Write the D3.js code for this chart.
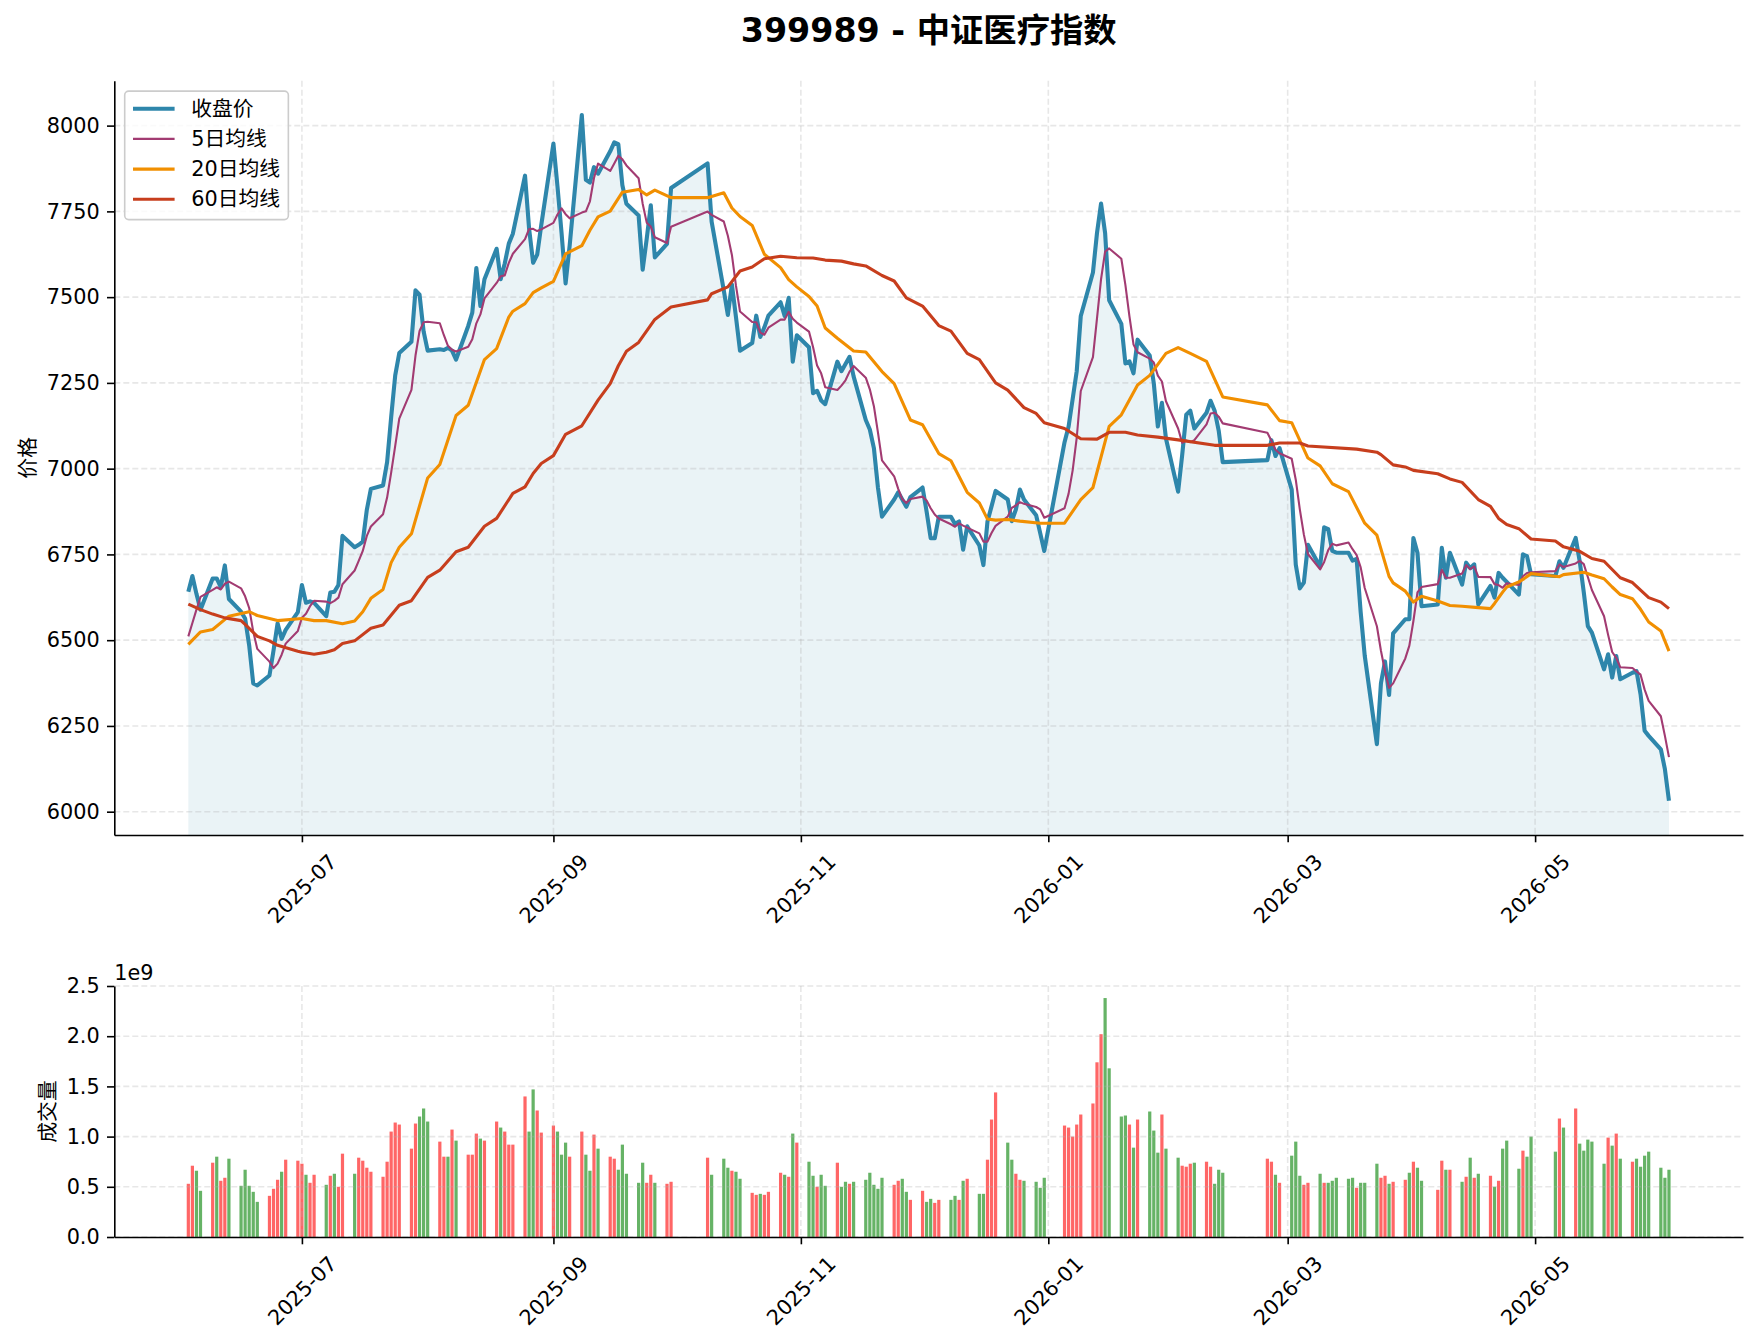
<!DOCTYPE html>
<html>
<head>
<meta charset="utf-8">
<script src="https://cdn.jsdelivr.net/npm/d3@7"></script>
<style>
  body { margin: 0; background: #fff; }
  svg text { font-family: "DejaVu Sans", "Noto Sans CJK SC", sans-serif; }
</style>
</head>
<body>
<div id="chart"></div>
<script>
var chartTitle = "399989 - 中证医疗指数";
var seriesNames = ["收盘价", "5日均线", "20日均线", "60日均线"];
var priceLabel = "价格";
var volumeLabel = "成交量";

// trading calendar: weekdays between these dates, minus exchange holidays
var firstDay = "2025-06-03";
var lastDay = "2026-06-03";
var holidays = ["2025-10-01", "2025-10-02", "2025-10-03", "2025-10-06", "2025-10-07", "2025-10-08",
                "2026-01-01", "2026-01-02", "2026-02-16", "2026-02-17", "2026-02-18", "2026-02-19",
                "2026-02-20", "2026-02-23", "2026-04-06", "2026-05-01", "2026-05-04", "2026-05-05"];

// daily close, one value per trading day
var closes = [
    // 2025-06
    6641, 6687, 6635, 6589, 6680, 6680, 6655, 6718, 6620, 6583, 6563, 6485, 6374, 6368, 6397, 6470, 6549, 6504, 6530, 6582,
    // 2025-07
    6661, 6609, 6613, 6609, 6570, 6639, 6641, 6661, 6804, 6771, 6778, 6787, 6880, 6941, 6951, 7019, 7150, 7272, 7337, 7370, 7520, 7507, 7400,
    // 2025-08
    7344, 7348, 7346, 7352, 7344, 7318, 7416, 7455, 7585, 7474, 7552, 7641, 7552, 7598, 7656, 7685, 7854, 7700, 7600, 7624, 7710,
    // 2025-09
    7948, 7823, 7688, 7540, 7650, 8031, 7842, 7834, 7879, 7860, 7925, 7951, 7946, 7826, 7772, 7738, 7580, 7670, 7768, 7616, 7655, 7818,
    // 2025-10
    7890, 7720, 7520, 7448, 7537, 7442, 7344, 7366, 7446, 7384, 7412, 7446, 7485, 7445, 7498, 7312, 7389,
    // 2025-11
    7354, 7220, 7227, 7199, 7188, 7312, 7284, 7305, 7326, 7269, 7142, 7114, 7060, 6945, 6860, 6910, 6931, 6910, 6889, 6917,
    // 2025-12
    6945, 6875, 6797, 6797, 6860, 6860, 6839, 6846, 6764, 6832, 6776, 6719, 6846, 6890, 6935, 6910, 6847, 6881, 6939, 6910, 6864, 6812, 6760,
    // 2026-01
    7077, 7123, 7203, 7284, 7445, 7572, 7687, 7773, 7687, 7491, 7422, 7307, 7313, 7278, 7376, 7330, 7249, 7123, 7192, 7088,
    // 2026-02
    6933, 7040, 7157, 7169, 7117, 7163, 7198, 7169, 7111, 7019, 7025, 7083, 7037, 7060,
    // 2026-03
    6939, 6720, 6651, 6668, 6778, 6714, 6829, 6824, 6760, 6755, 6755, 6732, 6737, 6582, 6455, 6197, 6375, 6438, 6340, 6520, 6561, 6561,
    // 2026-04
    6798, 6755, 6599, 6604, 6769, 6682, 6755, 6662, 6726, 6710, 6721, 6604, 6658, 6624, 6696, 6682, 6670, 6633, 6750, 6745, 6692,
    // 2026-05
    6687, 6730, 6711, 6798, 6730, 6640, 6541, 6522, 6415, 6459, 6391, 6454, 6386, 6405, 6410, 6342, 6236, 6221,
    // 2026-06
    6182, 6124, 6032
];

// 5-day average on the first four days (its window reaches before the chart)
var ma5Head = [6511, 6550, 6589, 6626];

// daily volume in units of 1e9
var volumes = [
    0.53, 0.71, 0.66, 0.46, 0.74, 0.80, 0.56, 0.59, 0.78, 0.51, 0.67, 0.51, 0.45, 0.35, 0.41, 0.48, 0.57, 0.65, 0.77, 0.76,
    0.73, 0.62, 0.54, 0.62, 0.52, 0.61, 0.63, 0.50, 0.83, 0.63, 0.79, 0.76, 0.69, 0.65, 0.60, 0.75, 1.05, 1.14, 1.12, 0.88, 1.13, 1.20, 1.28,
    1.15, 0.95, 0.80, 0.80, 1.07, 0.96, 0.82, 0.82, 1.03, 0.98, 0.96, 1.15, 1.09, 1.05, 0.92, 0.92, 1.40, 1.05, 1.47, 1.26, 1.04,
    1.11, 1.05, 0.82, 0.94, 0.80, 1.05, 0.82, 0.66, 1.02, 0.88, 0.80, 0.78, 0.67, 0.92, 0.63, 0.54, 0.74, 0.54, 0.62, 0.54, 0.53, 0.55,
    0.79, 0.62, 0.78, 0.69, 0.66, 0.65, 0.58, 0.44, 0.42, 0.43, 0.42, 0.45, 0.64, 0.62, 0.60, 1.03, 0.94,
    0.75, 0.61, 0.50, 0.62, 0.51, 0.74, 0.50, 0.55, 0.53, 0.55, 0.57, 0.64, 0.52, 0.48, 0.59, 0.52, 0.56, 0.58, 0.45, 0.37,
    0.46, 0.35, 0.38, 0.34, 0.37, 0.37, 0.41, 0.37, 0.56, 0.58, 0.43, 0.43, 0.77, 1.17, 1.44, 0.94, 0.77, 0.63, 0.57, 0.56, 0.55, 0.49, 0.59,
    1.11, 1.09, 1.00, 1.12, 1.22, 1.33, 1.74, 2.02, 2.38, 1.68, 1.20, 1.21, 1.12, 0.89, 1.17, 1.25, 1.06, 0.84, 1.22, 0.88,
    0.79, 0.71, 0.70, 0.73, 0.74, 0.75, 0.70, 0.53, 0.67, 0.64, 0.78, 0.75, 0.62, 0.54,
    0.81, 0.95, 0.61, 0.52, 0.54, 0.63, 0.54, 0.54, 0.56, 0.59, 0.58, 0.59, 0.49, 0.54, 0.54, 0.73, 0.59, 0.61, 0.53, 0.55, 0.57, 0.64,
    0.75, 0.69, 0.56, 0.47, 0.76, 0.67, 0.67, 0.55, 0.60, 0.79, 0.59, 0.63, 0.61, 0.50, 0.56, 0.88, 0.96, 0.68, 0.86, 0.80, 1.00,
    0.85, 1.18, 1.09, 1.28, 0.93, 0.86, 0.97, 0.95, 0.73, 0.99, 0.91, 1.03, 0.78, 0.75, 0.78, 0.70, 0.81, 0.85,
    0.69, 0.59, 0.67
];

// 1 = close above open (red bar), 0 = below (green bar)
var upDay = [
    1,1,0,0,1,0,1,1,0,0,0,0,0,0,1,1,1,0,1,1,
    1,0,1,1,0,1,0,1,1,0,1,1,1,1,1,1,1,1,1,1,1,0,0,
    0,1,1,0,1,0,1,1,1,0,1,1,0,1,1,1,1,0,0,1,1,
    1,0,0,0,1,1,0,0,1,0,1,1,0,0,0,0,0,1,1,0,1,1,
    1,0,0,0,1,0,0,1,1,0,1,1,1,0,1,0,1,
    0,0,1,0,0,1,0,0,1,0,0,0,0,0,0,1,1,0,0,1,
    1,0,0,1,1,0,0,1,0,1,0,0,1,1,1,0,0,1,1,0,0,0,0,
    1,1,1,1,1,1,1,1,0,0,0,0,1,0,1,0,0,0,1,0,
    0,1,1,1,0,1,1,0,0,0,1,1,0,1,
    0,0,0,1,1,0,1,0,0,0,0,0,1,0,0,0,1,1,0,1,1,0,
    1,0,0,1,1,0,1,0,1,0,1,0,1,0,1,0,0,0,1,0,0,
    0,1,0,1,0,0,0,0,0,1,0,1,0,1,0,0,0,0,
    0,0,0
];

// 20-day and 60-day averages, read at sampled dates
var ma20Dates = [
    "2025-06-03", "2025-06-06", "2025-06-09", "2025-06-13", "2025-06-18", "2025-06-20", "2025-06-25", "2025-07-01", "2025-07-04", "2025-07-07",
    "2025-07-11", "2025-07-14", "2025-07-16", "2025-07-18", "2025-07-21", "2025-07-23", "2025-07-25", "2025-07-28", "2025-08-01", "2025-08-04",
    "2025-08-08", "2025-08-11", "2025-08-15", "2025-08-18", "2025-08-21", "2025-08-22", "2025-08-25", "2025-08-27", "2025-08-29", "2025-09-01",
    "2025-09-04", "2025-09-08", "2025-09-10", "2025-09-12", "2025-09-15", "2025-09-18", "2025-09-22", "2025-09-24", "2025-09-26", "2025-09-30",
    "2025-10-09", "2025-10-13", "2025-10-15", "2025-10-17", "2025-10-20", "2025-10-23", "2025-10-27", "2025-10-29", "2025-10-31", "2025-11-03",
    "2025-11-05", "2025-11-07", "2025-11-10", "2025-11-14", "2025-11-17", "2025-11-21", "2025-11-24", "2025-11-28", "2025-12-01", "2025-12-05",
    "2025-12-08", "2025-12-12", "2025-12-15", "2025-12-17", "2025-12-19", "2025-12-22", "2025-12-25", "2025-12-30", "2026-01-05", "2026-01-09",
    "2026-01-12", "2026-01-16", "2026-01-19", "2026-01-23", "2026-01-26", "2026-01-30", "2026-02-02", "2026-02-05", "2026-02-09", "2026-02-13",
    "2026-02-24", "2026-02-27", "2026-03-02", "2026-03-06", "2026-03-09", "2026-03-12", "2026-03-16", "2026-03-20", "2026-03-23", "2026-03-26",
    "2026-03-27", "2026-03-30", "2026-04-01", "2026-04-03", "2026-04-07", "2026-04-10", "2026-04-13", "2026-04-17", "2026-04-20", "2026-04-21",
    "2026-04-23", "2026-04-24", "2026-04-27", "2026-04-28", "2026-04-30", "2026-05-07", "2026-05-08", "2026-05-13", "2026-05-15", "2026-05-18",
    "2026-05-20", "2026-05-22", "2026-05-25", "2026-05-27", "2026-05-29", "2026-06-01", "2026-06-03"
];
var ma20Values = [
    6488, 6524, 6531, 6570, 6583, 6572, 6557, 6563, 6557, 6557,
    6548, 6556, 6583, 6622, 6648, 6726, 6771, 6810, 6973, 7012,
    7155, 7185, 7318, 7350, 7442, 7459, 7481, 7513, 7527, 7546,
    7626, 7650, 7695, 7734, 7751, 7806, 7814, 7798, 7812, 7790,
    7790, 7804, 7760, 7735, 7709, 7625, 7586, 7551, 7530, 7502,
    7474, 7410, 7380, 7343, 7340, 7283, 7248, 7142, 7128, 7044,
    7023, 6931, 6900, 6853, 6850, 6852, 6847, 6841, 6841, 6910,
    6945, 7123, 7157, 7244, 7272, 7336, 7353, 7336, 7313, 7209,
    7186, 7140, 7134, 7031, 7008, 6956, 6933, 6841, 6806, 6686,
    6667, 6643, 6611, 6628, 6614, 6601, 6599, 6595, 6592, 6607,
    6640, 6655, 6670, 6677, 6694, 6685, 6691, 6698, 6690, 6679,
    6655, 6633, 6621, 6590, 6553, 6527, 6468
];
var ma60Dates = [
    "2025-06-03", "2025-06-06", "2025-06-09", "2025-06-12", "2025-06-16", "2025-06-17", "2025-06-20", "2025-06-23", "2025-06-25", "2025-06-30",
    "2025-07-01", "2025-07-04", "2025-07-07", "2025-07-09", "2025-07-11", "2025-07-14", "2025-07-18", "2025-07-21", "2025-07-25", "2025-07-28",
    "2025-08-01", "2025-08-04", "2025-08-08", "2025-08-11", "2025-08-15", "2025-08-18", "2025-08-22", "2025-08-25", "2025-08-27", "2025-08-29",
    "2025-09-01", "2025-09-04", "2025-09-08", "2025-09-12", "2025-09-15", "2025-09-17", "2025-09-19", "2025-09-22", "2025-09-26", "2025-09-30",
    "2025-10-09", "2025-10-10", "2025-10-14", "2025-10-17", "2025-10-20", "2025-10-23", "2025-10-27", "2025-10-31", "2025-11-04", "2025-11-07",
    "2025-11-11", "2025-11-14", "2025-11-17", "2025-11-21", "2025-11-24", "2025-11-27", "2025-12-01", "2025-12-05", "2025-12-08", "2025-12-12",
    "2025-12-15", "2025-12-19", "2025-12-22", "2025-12-26", "2025-12-29", "2025-12-31", "2026-01-05", "2026-01-09", "2026-01-13", "2026-01-16",
    "2026-01-20", "2026-01-23", "2026-01-28", "2026-02-02", "2026-02-11", "2026-02-24", "2026-02-27", "2026-03-04", "2026-03-06", "2026-03-18",
    "2026-03-23", "2026-03-24", "2026-03-27", "2026-03-30", "2026-04-01", "2026-04-07", "2026-04-10", "2026-04-13", "2026-04-17", "2026-04-20",
    "2026-04-22", "2026-04-24", "2026-04-27", "2026-04-30", "2026-05-06", "2026-05-08", "2026-05-12", "2026-05-15", "2026-05-18", "2026-05-22",
    "2026-05-25", "2026-05-29", "2026-06-01", "2026-06-03"
];
var ma60Values = [
    6605, 6589, 6576, 6565, 6557, 6546, 6511, 6498, 6485, 6468,
    6465, 6459, 6465, 6472, 6490, 6498, 6535, 6544, 6602, 6615,
    6683, 6704, 6758, 6771, 6832, 6855, 6928, 6947, 6986, 7015,
    7038, 7100, 7125, 7200, 7248, 7300, 7342, 7368, 7435, 7471,
    7492, 7510, 7530, 7576, 7588, 7612, 7619, 7615, 7614, 7608,
    7605, 7597, 7591, 7563, 7547, 7498, 7474, 7417, 7401, 7336,
    7318, 7250, 7229, 7178, 7161, 7134, 7117, 7087, 7086, 7106,
    7106, 7098, 7092, 7084, 7068, 7068, 7075, 7075, 7066, 7057,
    7048, 7041, 7011, 7005, 6995, 6985, 6970, 6960, 6910, 6890,
    6855, 6837, 6825, 6795, 6789, 6772, 6759, 6738, 6730, 6682,
    6668, 6624, 6611, 6592
];

var priceTicks = [6000, 6250, 6500, 6750, 7000, 7250, 7500, 7750, 8000];
var volumeTicks = [0, 0.5, 1.0, 1.5, 2.0, 2.5];
var colors = ["#2E86AB", "#A23B72", "#F18F01", "#C73E1D"];

function init(){

    var w = 1757;
    var h = 1342;
    var left = 114.3, right = 1743;
    var mainTop = 80.7, mainBottom = 835;
    var volTop = 986, volBottom = 1237;
    var fontPx = 20.8;
    var tickLen = 7.3;

    var parse = d3.timeParse("%Y-%m-%d");
    var fmt = d3.timeFormat("%Y-%m-%d");

    var days = d3.timeDay.range(parse(firstDay), d3.timeDay.offset(parse(lastDay), 1))
                .filter(function(d){
                    var wd = d.getDay();
                    return wd !== 0 && wd !== 6 && holidays.indexOf(fmt(d)) < 0;
                });
    if (days.length !== closes.length) console.warn("calendar", days.length, "closes", closes.length);

    var rows = days.map(function(d, i){
        return {
            date: d,
            close: closes[i],
            // rolling 5-day mean of the closes
            ma5: i < ma5Head.length ? ma5Head[i] : d3.mean(closes.slice(i - 4, i + 1)),
            volume: volumes[i],
            up: upDay[i] === 1
        };
    });
    var ma20 = ma20Dates.map(function(s, i){ return {date: parse(s), v: ma20Values[i]}; });
    var ma60 = ma60Dates.map(function(s, i){ return {date: parse(s), v: ma60Values[i]}; });

    // same 5% margins matplotlib adds
    var t0 = days[0], t1 = days[days.length - 1];
    var span = t1 - t0;
    var xScale = d3.scaleTime()
                    .domain([new Date(+t0 - span * 0.05), new Date(+t1 + span * 0.05)])
                    .range([left, right]);

    var ext = d3.extent(closes);
    var pad = (ext[1] - ext[0]) * 0.05;
    var yScale = d3.scaleLinear()
                    .domain([ext[0] - pad, ext[1] + pad])
                    .range([mainBottom, mainTop]);

    var vScale = d3.scaleLinear()
                    .domain([0, 2.5])
                    .range([volBottom, volTop]);

    var svg = d3.select("#chart")
                .append("svg")
                .attr("width", w)
                .attr("height", h)
                .style("display", "block")
                .style("background", "#fff");

    var xTicks = xScale.ticks(d3.timeMonth.every(2));

    // ---------- price panel ----------
    var area = d3.area()
                .x(function(d){ return xScale(d.date); })
                .y0(mainBottom)
                .y1(function(d){ return yScale(d.close); });

    svg.append("path")
        .datum(rows)
        .attr("d", area)
        .attr("fill", colors[0])
        .attr("fill-opacity", 0.1);

    drawGrid(mainTop, mainBottom, yScale, priceTicks);

    var line = d3.line()
                .x(function(d){ return xScale(d.date); })
                .y(function(d){ return yScale(d.v); });

    var closeLine = rows.map(function(d){ return {date: d.date, v: d.close}; });
    var ma5Line = rows.map(function(d){ return {date: d.date, v: d.ma5}; });
    var lineSets = [
        {data: closeLine, color: colors[0], width: 4.1},
        {data: ma5Line, color: colors[1], width: 2.1},
        {data: ma20, color: colors[2], width: 3.1},
        {data: ma60, color: colors[3], width: 3.1}
    ];

    lineSets.forEach(function(s){
        svg.append("path")
            .datum(s.data)
            .attr("d", line)
            .attr("fill", "none")
            .attr("stroke", s.color)
            .attr("stroke-width", s.width)
            .attr("stroke-linejoin", "round");
    });

    var yAxis = d3.axisLeft(yScale)
                    .tickValues(priceTicks)
                    .tickFormat(d3.format("d"))
                    .tickSize(tickLen)
                    .tickPadding(tickLen)
                    .tickSizeOuter(0);
    styleAxis(svg.append("g").attr("transform", "translate(" + left + ",0)").call(yAxis));

    var xAxis = d3.axisBottom(xScale)
                    .tickValues(xTicks)
                    .tickFormat(d3.timeFormat("%Y-%m"))
                    .tickSize(tickLen)
                    .tickPadding(tickLen)
                    .tickSizeOuter(0);
    var gx = svg.append("g").attr("transform", "translate(0," + mainBottom + ")").call(xAxis);
    styleAxis(gx);
    rotateLabels(gx);

    // title
    svg.append("text")
        .attr("x", (left + right) / 2)
        .attr("y", 42)
        .attr("text-anchor", "middle")
        .attr("font-size", "33.3px")
        .attr("font-weight", "bold")
        .text(chartTitle);

    svg.append("text")
        .attr("transform", "translate(28," + ((mainTop + mainBottom) / 2) + ") rotate(-90)")
        .attr("text-anchor", "middle")
        .attr("dominant-baseline", "central")
        .attr("font-size", fontPx + "px")
        .text(priceLabel);

    // legend
    var lg = svg.append("g");
    var lgX = left + 10.4, lgY = mainTop + 10.4;
    var box = lg.append("rect")
                .attr("x", lgX)
                .attr("y", lgY)
                .attr("height", 128.5)
                .attr("rx", 4)
                .attr("fill", "#fff")
                .attr("fill-opacity", 0.8)
                .attr("stroke", "#cccccc")
                .attr("stroke-width", 1.6);
    var maxW = 0;
    seriesNames.forEach(function(name, i){
        var cy = lgY + 17.6 + i * 30.2;
        lg.append("line")
            .attr("x1", lgX + 8.3)
            .attr("x2", lgX + 8.3 + 41.6)
            .attr("y1", cy)
            .attr("y2", cy)
            .attr("stroke", lineSets[i].color)
            .attr("stroke-width", lineSets[i].width);
        var t = lg.append("text")
                .attr("x", lgX + 8.3 + 41.6 + 16.6)
                .attr("y", cy)
                .attr("dominant-baseline", "central")
                .attr("font-size", fontPx + "px")
                .text(name);
        maxW = Math.max(maxW, t.node().getComputedTextLength());
    });
    box.attr("width", 8.3 + 41.6 + 16.6 + maxW + 8.3);

    // ---------- volume panel ----------
    var barW = xScale(d3.timeHour.offset(t0, 0.8 * 24)) - xScale(t0);

    svg.selectAll("rect.vol")
        .data(rows)
        .enter()
        .append("rect")
        .attr("class", "vol")
        .attr("x", function(d){ return xScale(d.date) - barW / 2; })
        .attr("y", function(d){ return vScale(d.volume); })
        .attr("width", barW)
        .attr("height", function(d){ return volBottom - vScale(d.volume); })
        .attr("fill", function(d){ return d.up ? "#ff6666" : "#66b366"; });

    drawGrid(volTop, volBottom, vScale, volumeTicks);

    var vAxis = d3.axisLeft(vScale)
                    .tickValues(volumeTicks)
                    .tickFormat(d3.format(".1f"))
                    .tickSize(tickLen)
                    .tickPadding(tickLen)
                    .tickSizeOuter(0);
    styleAxis(svg.append("g").attr("transform", "translate(" + left + ",0)").call(vAxis));

    var gx2 = svg.append("g").attr("transform", "translate(0," + volBottom + ")").call(xAxis);
    styleAxis(gx2);
    rotateLabels(gx2);

    svg.append("text")
        .attr("x", left)
        .attr("y", 980)
        .attr("font-size", fontPx + "px")
        .text("1e9");

    svg.append("text")
        .attr("transform", "translate(48," + ((volTop + volBottom) / 2) + ") rotate(-90)")
        .attr("text-anchor", "middle")
        .attr("dominant-baseline", "central")
        .attr("font-size", fontPx + "px")
        .text(volumeLabel);

    function drawGrid(top, bottom, scale, ticks){
        var g = svg.append("g")
                    .attr("stroke", "#b0b0b0")
                    .attr("stroke-opacity", 0.3)
                    .attr("stroke-width", 1.6)
                    .attr("stroke-dasharray", "6,3");
        g.selectAll("line.gx")
            .data(xTicks)
            .enter()
            .append("line")
            .attr("x1", function(d){ return xScale(d); })
            .attr("x2", function(d){ return xScale(d); })
            .attr("y1", top)
            .attr("y2", bottom);
        g.selectAll("line.gy")
            .data(ticks)
            .enter()
            .append("line")
            .attr("x1", left)
            .attr("x2", right)
            .attr("y1", function(d){ return scale(d); })
            .attr("y2", function(d){ return scale(d); });
    }

    function styleAxis(g){
        g.attr("font-family", null).attr("font-size", null);
        g.select(".domain").attr("stroke", "#000").attr("stroke-width", 1.6);
        g.selectAll(".tick line").attr("stroke", "#000").attr("stroke-width", 1.6);
        g.selectAll(".tick text").attr("fill", "#000").style("font-size", fontPx + "px");
    }

    function rotateLabels(g){
        g.selectAll(".tick text")
            .attr("y", 0)
            .attr("dy", null)
            .attr("text-anchor", "middle")
            .attr("dominant-baseline", "central")
            .attr("transform", "translate(0,53.8) rotate(-45)");
    }
}
window.onload = init;
</script>
</body>
</html>
